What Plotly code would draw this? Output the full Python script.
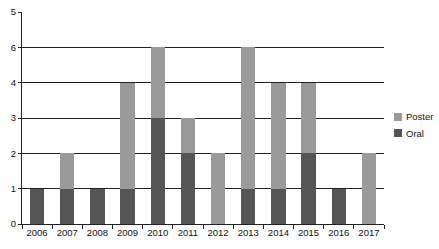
import plotly.graph_objects as go

years = ["2006", "2007", "2008", "2009", "2010", "2011", "2012", "2013", "2014", "2015", "2016", "2017"]
oral = [1, 1, 1, 1, 3, 2, 0, 1, 1, 2, 1, 0]
poster = [0, 1, 0, 3, 2, 1, 2, 4, 3, 2, 0, 2]
ytick_vals = [0, 1, 2, 3, 4, 5, 6]
ytick_text = ["0", "1", "2", "3", "4", "6", "5"]
legend_names = ["Poster", "Oral"]

ORAL_C = "#555555"
POSTER_C = "#9a9a9a"

fig = go.Figure()
fig.add_trace(go.Bar(x=years, y=oral, name="Oral", showlegend=False,
                     marker=dict(color=ORAL_C, line=dict(width=0))))
fig.add_trace(go.Bar(x=years, y=poster, name="Poster", showlegend=False,
                     marker=dict(color=POSTER_C, line=dict(width=0))))

W = 439
L = 22
TOP = 12
H_PLOT = 212
plot_right = 384

def xp(px):
    return (px - L) / (W - L)

def yp(py):
    return (TOP + H_PLOT - py) / H_PLOT

# custom legend (swatch + text)
for name, color, cy in zip(legend_names, [POSTER_C, ORAL_C], [117, 133]):
    fig.add_shape(type="rect", xref="paper", yref="paper",
                  x0=xp(394), x1=xp(402), y0=yp(cy + 4), y1=yp(cy - 4),
                  fillcolor=color, line=dict(width=0))
    fig.add_annotation(text=name, xref="paper", yref="paper", x=xp(403.5), y=yp(cy),
                       xanchor="left", yanchor="middle", showarrow=False,
                       font=dict(size=9.5, color="#111111"))

fig.update_layout(
    barmode="stack",
    bargap=0.53,
    width=W, height=249,
    showlegend=False,
    margin=dict(l=L, r=0, t=TOP, b=25, autoexpand=False),
    paper_bgcolor="white", plot_bgcolor="white",
    font=dict(family="Liberation Sans, Arial", size=9.5, color="#111111"),
    xaxis=dict(type="category", domain=[0, xp(plot_right)],
               showline=True, linecolor="#222222", linewidth=1,
               ticks="outside", tickson="boundaries", ticklen=4, tickcolor="#222222",
               showgrid=False, tickangle=0, tickfont=dict(size=9.5)),
    yaxis=dict(range=[0, 6], tickvals=ytick_vals, ticktext=ytick_text,
               showgrid=True, gridcolor="#222222", gridwidth=1,
               showline=True, linecolor="#222222", linewidth=1,
               ticks="outside", ticklen=3, tickcolor="#222222", zeroline=False,
               tickfont=dict(size=9.5)),
)
fig.write_html("out.html")
